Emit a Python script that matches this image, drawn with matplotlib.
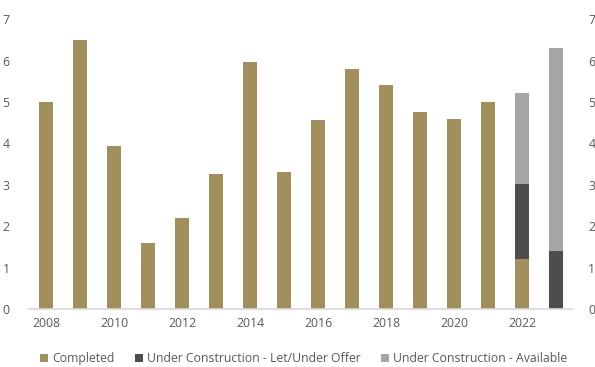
import matplotlib.pyplot as plt
import numpy as np

years = list(range(2008, 2024))
completed = [5.0, 6.5, 3.94, 1.59, 2.2, 3.26, 5.97, 3.31, 4.57, 5.8, 5.41, 4.76, 4.59, 5.0, 1.21, 0.0]
let_offer = [0, 0, 0, 0, 0, 0, 0, 0, 0, 0, 0, 0, 0, 0, 1.8, 1.4]
available = [0, 0, 0, 0, 0, 0, 0, 0, 0, 0, 0, 0, 0, 0, 2.2, 4.9]
tick_years = ["2008", "2010", "2012", "2014", "2016", "2018", "2020", "2022"]

gold = "#a18f5e"
dark = "#4d4d4d"
light = "#a6a6a6"
text_col = "#595959"

plt.rcParams['font.family'] = ['Open Sans', 'DejaVu Sans']

fig = plt.figure(figsize=(5.95, 3.67), dpi=100)
ax = fig.add_axes([0.049, 0.158, 0.914, 0.79])

x = np.arange(len(years))
w = 0.41
completed = np.array(completed)
let_offer = np.array(let_offer)
available = np.array(available)
ax.bar(x, completed, w, color=gold, label="Completed")
ax.bar(x, let_offer, w, bottom=completed, color=dark, label="Under Construction - Let/Under Offer")
ax.bar(x, available, w, bottom=completed + let_offer, color=light,
       label="Under Construction - Available")

ax.set_xlim(-0.5, len(years) - 0.5)
ax.set_ylim(0, 7)
ax.set_yticks(range(8))
ax.set_xticks(x[::2])
ax.set_xticklabels(tick_years)

for s in ["top", "left", "right"]:
    ax.spines[s].set_visible(False)
ax.spines["bottom"].set_color("#d9d9d9")
ax.spines["bottom"].set_linewidth(1.2)
ax.tick_params(axis="both", length=0, labelsize=8.8, colors=text_col)
ax.tick_params(axis="y", pad=14)
ax.tick_params(axis="x", pad=6)

# same scale repeated on the right
ax2 = ax.twinx()
ax2.set_ylim(0, 7)
ax2.set_yticks(range(8))
for s in ax2.spines.values():
    s.set_visible(False)
ax2.tick_params(axis="y", length=0, labelsize=8.8, colors=text_col, pad=11)

ax.legend(loc="upper center", bbox_to_anchor=(0.505, -0.112), ncol=3, frameon=False,
          fontsize=8.8, labelcolor=text_col, handlelength=0.65, handleheight=0.65,
          handletextpad=0.3, columnspacing=1.7)

fig.savefig("out.png", dpi=100)
